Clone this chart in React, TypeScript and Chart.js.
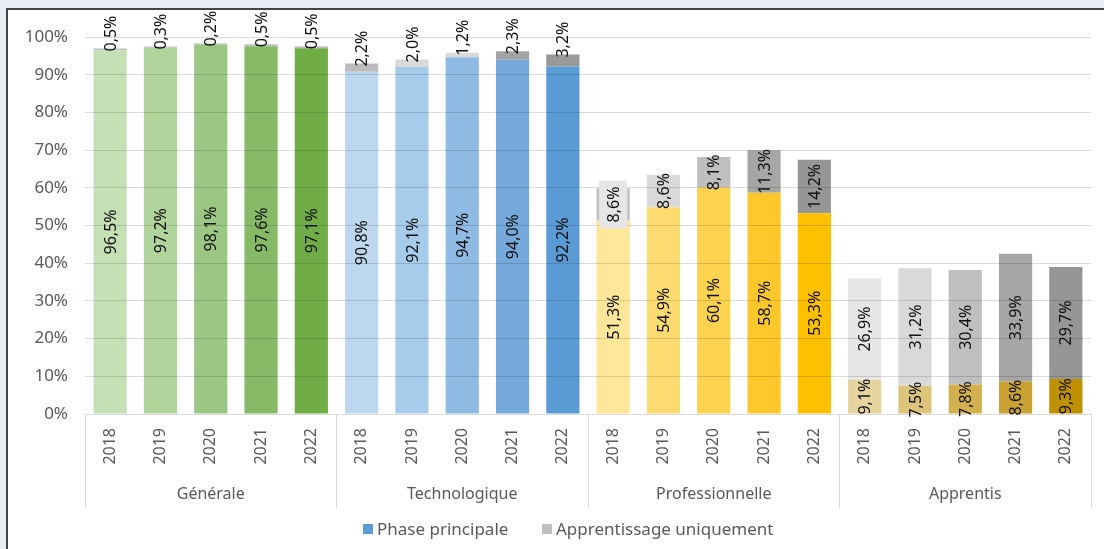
import React, { useEffect, useRef } from "react";
import { Chart, registerables } from "chart.js";

Chart.register(...registerables);

const groups = ["Générale", "Technologique", "Professionnelle", "Apprentis"];
const years = ["2018", "2019", "2020", "2021", "2022"];
const yTicks = [0, 10, 20, 30, 40, 50, 60, 70, 80, 90, 100];

const phasePrincipale = [
  96.5, 97.2, 98.1, 97.6, 97.1,
  90.8, 92.1, 94.7, 94.0, 92.2,
  51.3, 54.9, 60.1, 58.7, 53.3,
  9.1, 7.5, 7.8, 8.6, 9.3,
];
const apprentissageUniquement = [
  0.5, 0.3, 0.2, 0.5, 0.5,
  2.2, 2.0, 1.2, 2.3, 3.2,
  8.6, 8.6, 8.1, 11.3, 14.2,
  26.9, 31.2, 30.4, 33.9, 29.7,
];

const phaseColors = [
  "#c5e0b4", "#b1d49c", "#9cc683", "#87ba66", "#70ad47",
  "#bdd7ee", "#a7cbea", "#8fbae3", "#75a9dc", "#5b9bd5",
  "#ffe699", "#fedb70", "#fdd24f", "#fec82d", "#ffc000",
  "#e6d49e", "#dcc47a", "#d3b04e", "#c9a233", "#bf9000",
];
const grayColors = [
  "#bfbfbf", "#bfbfbf", "#bfbfbf", "#bfbfbf", "#bfbfbf",
  "#bcbcbc", "#d9d9d9", "#d9d9d9", "#a3a3a3", "#999999",
  "#c0c0c0", "#d9d9d9", "#bfbfbf", "#a6a6a6", "#969696",
  "#e6e6e6", "#d9d9d9", "#bfbfbf", "#a6a6a6", "#969696",
];
const grayLabelBg: (string | null)[] = [
  null, null, null, null, null,
  null, null, null, null, null,
  "#e6e6e6", null, null, null, null,
  null, null, null, null, null,
];

const FONT = "'Noto Sans', sans-serif";
const fmt = (v: number) => v.toFixed(1).replace(".", ",") + "%";

const labelsPlugin = {
  id: "segLabels",
  afterDraw(chart: any) {
    const ctx = chart.ctx;
    ctx.save();
    ctx.font = `16px ${FONT}`;
    ctx.textBaseline = "middle";
    ctx.textAlign = "center";
    chart.data.datasets.forEach((ds: any, di: number) => {
      const meta = chart.getDatasetMeta(di);
      meta.data.forEach((el: any, i: number) => {
        const v = ds.data[i];
        const txt = fmt(v);
        const w = ctx.measureText(txt).width;
        const top = Math.min(el.y, el.base);
        const bot = Math.max(el.y, el.base);
        const h = bot - top;
        let cy = (top + bot) / 2;
        if (di === 1 && h < 20) cy = top - w / 2 + 3;
        ctx.save();
        ctx.translate(el.x, cy);
        ctx.rotate(-Math.PI / 2);
        if (di === 1 && grayLabelBg[i]) {
          ctx.fillStyle = grayLabelBg[i];
          ctx.fillRect(-w / 2 - 6, -14, w + 12, 28);
        }
        ctx.fillStyle = "#111";
        ctx.fillText(txt, 0, 1);
        ctx.restore();
      });
    });
    ctx.restore();
  },
};

const axisDecorPlugin = {
  id: "axisDecor",
  afterDraw(chart: any) {
    const ctx = chart.ctx;
    const xs = chart.scales.x;
    const area = chart.chartArea;
    const step = xs.getPixelForValue(1) - xs.getPixelForValue(0);
    ctx.save();
    ctx.strokeStyle = "#d9d9d9";
    ctx.lineWidth = 1;
    for (let g = 0; g <= groups.length; g++) {
      const idx = g * years.length - 0.5;
      const x = Math.round(xs.getPixelForValue(0) + idx * step) + 0.5;
      ctx.beginPath();
      ctx.moveTo(x, area.bottom);
      ctx.lineTo(x, area.bottom + 94);
      ctx.stroke();
    }
    ctx.fillStyle = "#595959";
    ctx.font = `16px ${FONT}`;
    ctx.textAlign = "center";
    ctx.textBaseline = "middle";
    groups.forEach((g, gi) => {
      const c = xs.getPixelForValue(gi * years.length + (years.length - 1) / 2);
      ctx.fillText(g, c, area.bottom + 80);
    });
    const items = [
      { label: "Phase principale", color: "#5b9bd5", x: 355 },
      { label: "Apprentissage uniquement", color: "#bfbfbf", x: 534 },
    ];
    ctx.textAlign = "left";
    ctx.font = `17px ${FONT}`;
    const ly = 519;
    items.forEach((it) => {
      ctx.fillStyle = it.color;
      ctx.fillRect(it.x, ly - 5, 10, 10);
      ctx.fillStyle = "#595959";
      ctx.fillText(it.label, it.x + 14, ly + 1);
    });
    ctx.restore();
  },
};

export default function App() {
  const ref = useRef<HTMLCanvasElement>(null);
  useEffect(() => {
    const labels: string[] = [];
    groups.forEach(() => years.forEach((y) => labels.push(y)));
    const chart = new Chart(ref.current!, {
      type: "bar",
      data: {
        labels,
        datasets: [
          {
            label: "Phase principale",
            data: phasePrincipale,
            backgroundColor: phaseColors,
            categoryPercentage: 1,
            barPercentage: 0.66,
          },
          {
            label: "Apprentissage uniquement",
            data: apprentissageUniquement,
            backgroundColor: grayColors,
            categoryPercentage: 1,
            barPercentage: 0.66,
          },
        ],
      },
      options: {
        responsive: false,
        animation: false,
        layout: { padding: { top: 24, right: 13, left: 0, bottom: 0 } },
        plugins: { legend: { display: false }, tooltip: { enabled: false } },
        scales: {
          x: {
            stacked: true,
            grid: { display: false, drawTicks: false },
            border: { display: false },
            ticks: {
              color: "#595959",
              font: { family: FONT, size: 16 },
              maxRotation: 90,
              minRotation: 90,
              padding: 14,
              autoSkip: false,
            },
            afterFit: (s: any) => {
              s.height = 135;
            },
          },
          y: {
            stacked: true,
            min: 0,
            max: 100,
            afterBuildTicks: (s: any) => {
              s.ticks = yTicks.map((v) => ({ value: v }));
            },
            grid: { color: "rgba(0,0,0,0.14)", drawTicks: false, lineWidth: 1, z: 1 },
            border: { display: false },
            ticks: {
              color: "#595959",
              font: { family: FONT, size: 17 },
              padding: 17,
              callback: (v: any) => v + "%",
            },
            afterFit: (s: any) => {
              s.width = 77;
            },
          },
        },
      },
      plugins: [labelsPlugin, axisDecorPlugin],
    });
    return () => chart.destroy();
  }, []);
  return (
    <div
      style={{
        position: "fixed",
        left: 0,
        top: 0,
        width: 1104,
        height: 549,
        background: "#e9ecf4",
        overflow: "hidden",
      }}
    >
      <div
        style={{
          position: "absolute",
          left: 6,
          top: 8,
          width: 1110,
          height: 560,
          background: "#ffffff",
          borderLeft: "2px solid #444",
          borderTop: "2px solid #444",
        }}
      >
        <canvas ref={ref} width={1096} height={539} style={{ display: "block" }} />
      </div>
    </div>
  );
}
